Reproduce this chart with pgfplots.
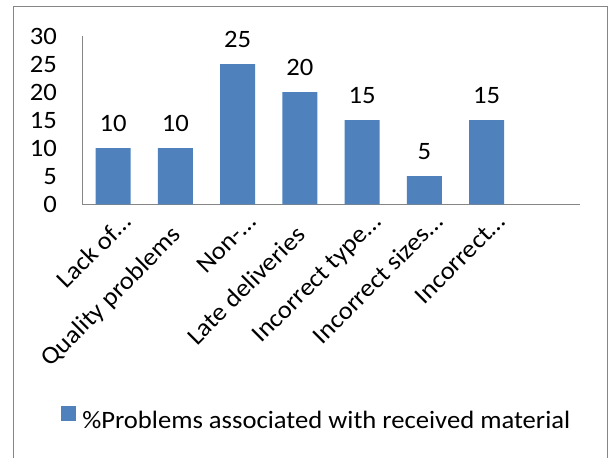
\documentclass[border=0pt]{standalone}
\usepackage{fontspec}
\setmainfont{Carlito}[FakeStretch=1.065]
\usepackage{pgfplots}
\pgfplotsset{compat=1.18}
\definecolor{barblue}{HTML}{4F81BD}
\definecolor{axgray}{HTML}{868686}
\newcommand{\cf}{\fontsize{25}{29}\selectfont}
\newcommand{\elp}{\rlap{…}}
\begin{document}
\begin{tikzpicture}[font=\cf]
\useasboundingbox (0,0) rectangle (609pt,457pt);
\draw[axgray, line width=1pt] (13.5pt,-5pt) -- (13.5pt,450.5pt) -- (607.5pt,450.5pt) -- (607.5pt,-5pt);
\begin{axis}[
  at={(82pt,252.7pt)}, anchor=south west,
  scale only axis, width=498pt, height=168.3pt,
  ymin=0, ymax=30, ytick={0,5,...,30},
  xmin=-0.5, xmax=7.5,
  xtick={0,...,6},
  xticklabels={Lack of\elp, Quality problems, Non-\elp, Late deliveries, Incorrect type\elp, Incorrect sizes\elp, Incorrect\elp},
  axis x line*=bottom, axis y line*=left,
  axis line style={axgray, line width=1pt, -},
  major tick length=0pt,
  /pgf/number format/assume math mode=true,
  ybar, bar width=35pt,
  yticklabel style={font=\cf, inner sep=0pt, anchor=east, xshift=-25pt, text=black},
  xticklabel style={font=\cf, inner sep=0pt, xshift=7pt, yshift=-32pt, rotate=45, anchor=base east, text=black},
  nodes near coords,
  every node near coord/.append style={font=\cf, anchor=base, inner sep=0pt, yshift=17pt, text=black},
  legend style={at={(-0.042,-1.27)}, anchor=west, draw=none, fill=none, inner sep=0pt, outer sep=0pt,
    nodes={inner sep=0pt, font=\cf, text=black},
    /tikz/every odd column/.append style={column sep=6.7pt}},
]
\addplot[fill=barblue, draw=none,
  legend image code/.code={\fill[barblue] (0pt,0pt) rectangle (14.5pt,15pt);}]
  coordinates {(0,10) (1,10) (2,25) (3,20) (4,15) (5,5) (6,15)};
\addlegendentry{\%Problems associated with received material}
\end{axis}
\end{tikzpicture}
\end{document}
